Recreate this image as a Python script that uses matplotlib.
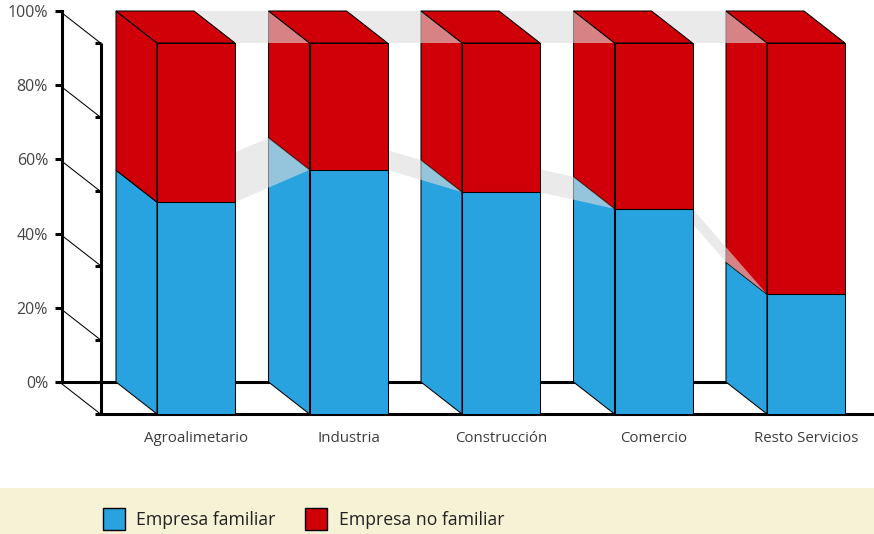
import matplotlib
matplotlib.use('Agg')
import matplotlib.pyplot as plt
from matplotlib.patches import Rectangle, Patch

plt.rcParams['font.family'] = ['Open Sans', 'DejaVu Sans']

sectores = ['Agroalimetario', 'Industria', 'Construcción', 'Comercio', 'Resto Servicios']
familiar = [57.1, 65.8, 59.8, 55.3, 32.3]
no_familiar = [42.9, 34.2, 40.2, 44.7, 67.7]
ticks_y = [0, 20, 40, 60, 80, 100]

azul = '#29A3DF'
rojo = '#D00008'
W, H = 874, 534

# the axes is the back wall of the 3d box, bars are pushed forward from it
fig = plt.figure(figsize=(W / 100, H / 100), dpi=100)
ax = fig.add_axes([62 / W, (H - 382) / H, (W - 62) / W, 371 / H])
ax.patch.set_alpha(0)
ax.set_ylim(0, 100)
px_cat = 152.5
ax.set_xlim((62 - 196) / px_cat, (W - 196) / px_cat)

dx = 41 / px_cat
dy = 32 / 3.71
ancho = 78 / px_cat

# legend band
fig.add_artist(Rectangle((0, 0), 1, 46 / H, transform=fig.transFigure,
                         color='#F5F2D6', lw=0, zorder=-5))

ax.set_xticks(range(len(sectores)))
ax.set_xticklabels(sectores)
ax.tick_params(axis='x', length=0, pad=35, labelsize=10.8, labelcolor='#3c3c3c')
ax.set_yticks(ticks_y)
ax.set_yticklabels([str(t) + '%' for t in ticks_y])
ax.tick_params(axis='y', length=5, width=2.2, pad=5, labelsize=11.5, labelcolor='#444444')
ax.spines['top'].set_visible(False)
ax.spines['right'].set_visible(False)
ax.spines['left'].set_linewidth(2.2)
ax.spines['bottom'].set_linewidth(2.2)
ax.spines['bottom'].set_bounds((62 - 196 - 5) / px_cat, 4 - ancho / 2 - dx)
ax.spines['left'].set_zorder(1)
ax.spines['bottom'].set_zorder(1)

# front axis, floor and the thin lines going back
x_frente = (100.5 - 196) / px_cat
ax.plot([x_frente, x_frente], [-dy, 100 - dy], color='k', lw=2.2, clip_on=False, zorder=1,
        solid_capstyle='butt')
ax.plot([(95 - 196) / px_cat, (W - 196) / px_cat], [-dy, -dy], color='k', lw=2.2,
        clip_on=False, zorder=1, solid_capstyle='butt')
for t in ticks_y:
    ax.plot([x_frente - dx, x_frente], [t, t - dy], color='k', lw=0.75, clip_on=False, zorder=1)
    if t > 0:
        ax.plot([x_frente - 5.5 / px_cat, x_frente], [t - dy, t - dy], color='k', lw=2.2,
                clip_on=False, zorder=1, solid_capstyle='butt')

borde = dict(edgecolor='k', linewidth=0.75, clip_on=False)
for i in range(len(sectores)):
    izq = i - ancho / 2
    der = i + ancho / 2
    v = familiar[i]
    # side faces
    ax.fill([izq - dx, izq, izq, izq - dx], [0, -dy, v - dy, v], facecolor=azul, zorder=2, **borde)
    ax.fill([izq - dx, izq, izq, izq - dx], [v, v - dy, 100 - dy, 100], facecolor=rojo, zorder=2, **borde)
    # front faces
    ax.bar(i, v, ancho, bottom=-dy, color=azul, zorder=4, **borde)
    ax.bar(i, no_familiar[i], ancho, bottom=v - dy, color=rojo, zorder=4, **borde)
    # top
    ax.fill([izq, der, der - dx, izq - dx], [100 - dy, 100 - dy, 100, 100], facecolor=rojo, zorder=4, **borde)
    # grey series lines to the next bar
    if i < len(sectores) - 1:
        izq2 = i + 1 - ancho / 2
        for a, b in [(v, familiar[i + 1]), (100, 100)]:
            ax.fill([der, der - dx, izq2 - dx, izq2], [a - dy, a, b, b - dy],
                    facecolor='#DCDCDC', alpha=0.6, lw=0, zorder=3, clip_on=False)

fig.legend(handles=[Patch(facecolor=azul, edgecolor='k', label='Empresa familiar'),
                    Patch(facecolor=rojo, edgecolor='k', label='Empresa no familiar')],
           loc='lower left', bbox_to_anchor=(99 / W, 0), ncols=2, frameon=False,
           fontsize=12.7, handlelength=1.25, handleheight=1.55, handletextpad=0.65,
           columnspacing=1.7, borderpad=0.2, borderaxespad=0, labelcolor='#222222')

fig.savefig('out.png', dpi=100)
